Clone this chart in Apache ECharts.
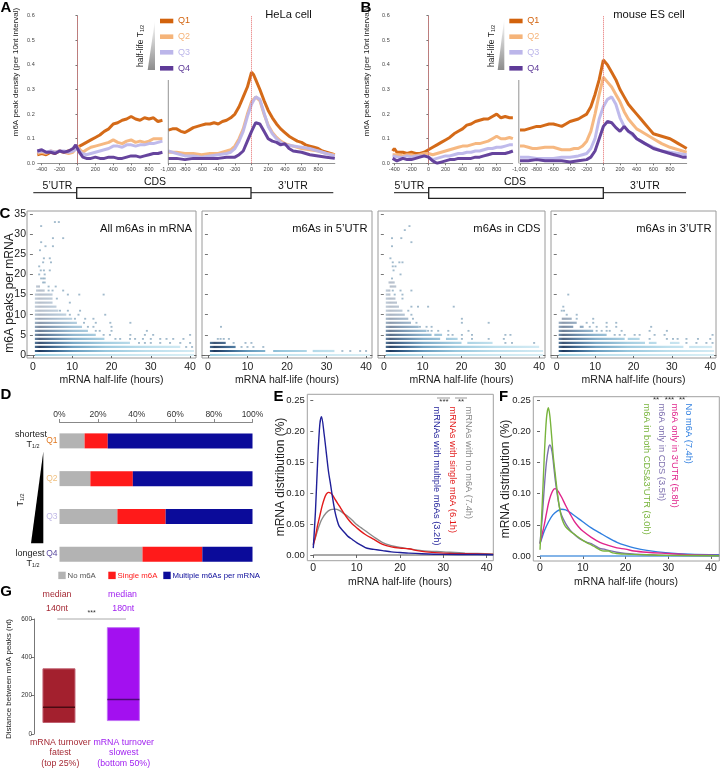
<!DOCTYPE html>
<html><head><meta charset="utf-8">
<script src="https://cdn.jsdelivr.net/npm/echarts@6/dist/echarts.min.js"></script>
<style>html,body{margin:0;padding:0;background:#fff}#c{width:722px;height:770px}</style>
</head><body><div id="c"></div>
<script>
// ---------- Panel A / B : m6A peak density profiles ----------
const helaStartQ1 = [[-450,.035],[-400,.04],[-350,.035],[-300,.045],[-250,.04],[-200,.05],[-150,.045],[-100,.05],[-50,.055],[0,.065],[50,.075],[100,.085],[150,.095],[200,.105],[250,.115],[300,.13],[350,.14],[400,.16],[450,.165],[500,.175],[550,.18],[600,.19],[650,.18],[700,.175],[750,.185],[800,.18],[850,.185],[900,.17],[950,.175]];
const helaStartQ2 = [[-450,.04],[-400,.045],[-350,.04],[-300,.05],[-250,.045],[-200,.05],[-150,.045],[-100,.04],[-50,.045],[0,.07],[30,.055],[60,.045],[100,.055],[150,.065],[200,.07],[250,.075],[300,.08],[350,.085],[400,.095],[450,.085],[500,.08],[550,.09],[600,.095],[650,.085],[700,.09],[750,.085],[800,.09],[850,.1],[900,.1],[950,.1]];
const helaStartQ3 = [[-450,.045],[-400,.05],[-350,.045],[-300,.05],[-250,.045],[-200,.05],[-150,.05],[-100,.045],[-50,.05],[0,.06],[50,.04],[100,.035],[150,.04],[200,.045],[250,.05],[300,.055],[350,.06],[400,.07],[450,.07],[500,.065],[550,.075],[600,.075],[650,.07],[700,.075],[750,.075],[800,.08],[850,.08],[900,.085],[950,.09]];
const helaStartQ4 = [[-450,.05],[-400,.055],[-350,.045],[-300,.045],[-250,.04],[-200,.05],[-150,.045],[-100,.05],[-50,.06],[-20,.075],[0,.06],[30,.04],[60,.025],[100,.02],[150,.02],[200,.025],[250,.02],[300,.02],[350,.025],[400,.025],[450,.02],[500,.02],[550,.025],[600,.03],[650,.03],[700,.025],[750,.03],[800,.035],[850,.04],[900,.04],[950,.045]];
const helaStopQ1 = [[-1000,.135],[-950,.14],[-900,.14],[-850,.13],[-800,.125],[-750,.135],[-700,.145],[-650,.15],[-600,.155],[-550,.16],[-500,.16],[-450,.165],[-400,.16],[-350,.17],[-300,.175],[-250,.185],[-200,.2],[-150,.23],[-100,.27],[-50,.31],[0,.37],[25,.36],[50,.34],[100,.3],[150,.255],[200,.215],[250,.185],[300,.16],[350,.14],[400,.125],[450,.11],[500,.1],[550,.09],[600,.085],[650,.075],[700,.07],[750,.065],[800,.06],[850,.05],[900,.045],[950,.04],[1000,.035]];
const helaStopQ2 = [[-1000,.045],[-900,.045],[-800,.04],[-700,.04],[-600,.035],[-500,.04],[-400,.04],[-300,.05],[-250,.055],[-200,.07],[-150,.1],[-100,.14],[-50,.2],[0,.25],[50,.27],[100,.255],[150,.2],[200,.155],[250,.125],[300,.105],[350,.09],[400,.08],[500,.07],[600,.06],[700,.055],[800,.05],[900,.04],[1000,.035]];
const helaStopQ3 = [[-1000,.05],[-900,.04],[-800,.03],[-700,.03],[-600,.025],[-500,.03],[-400,.035],[-300,.04],[-250,.045],[-200,.06],[-150,.09],[-100,.13],[-50,.19],[0,.24],[50,.27],[100,.26],[150,.205],[200,.15],[250,.12],[300,.1],[350,.085],[400,.075],[500,.07],[600,.065],[700,.06],[800,.05],[900,.04],[1000,.03]];
const helaStopQ4 = [[-1000,.02],[-900,.02],[-800,.015],[-700,.02],[-600,.02],[-500,.02],[-400,.02],[-300,.025],[-200,.025],[-150,.035],[-100,.05],[-50,.09],[0,.13],[50,.165],[100,.16],[150,.13],[200,.1],[250,.09],[300,.085],[350,.075],[400,.08],[450,.06],[500,.05],[600,.045],[700,.035],[800,.03],[900,.025],[1000,.02]];
const mouseStartQ1 = [[-420,.05],[-400,.06],[-370,.045],[-300,.045],[-250,.04],[-200,.045],[-150,.04],[-100,.04],[-50,.045],[0,.055],[50,.065],[100,.075],[150,.085],[200,.095],[250,.105],[300,.12],[350,.13],[400,.14],[450,.155],[500,.16],[550,.17],[600,.175],[650,.18],[700,.18],[750,.19],[800,.2],[850,.185],[900,.19],[950,.185],[990,.185]];
const mouseStartQ2 = [[-420,.035],[-350,.035],[-300,.03],[-250,.035],[-200,.035],[-150,.03],[-100,.035],[-50,.04],[0,.04],[50,.035],[100,.04],[150,.045],[200,.05],[250,.055],[300,.06],[350,.065],[400,.07],[450,.07],[500,.075],[550,.08],[600,.08],[650,.085],[700,.09],[750,.1],[800,.11],[850,.1],[900,.1],[950,.105],[990,.1]];
const mouseStartQ3 = [[-420,.03],[-350,.025],[-300,.025],[-250,.03],[-200,.025],[-150,.03],[-100,.03],[-50,.03],[0,.025],[50,.015],[100,.02],[150,.025],[200,.03],[250,.03],[300,.035],[350,.04],[400,.04],[450,.045],[500,.045],[550,.05],[600,.05],[650,.055],[700,.06],[750,.06],[800,.065],[850,.065],[900,.07],[950,.075],[990,.075]];
const mouseStartQ4 = [[-420,.02],[-400,.015],[-370,.01],[-300,.02],[-250,.015],[-200,.015],[-150,.02],[-100,.025],[-50,.03],[0,.025],[50,.01],[100,.0],[150,.005],[200,.01],[250,.015],[300,.015],[350,.02],[400,.02],[450,.02],[500,.02],[550,.025],[600,.025],[650,.03],[700,.035],[750,.04],[800,.04],[850,.04],[900,.04],[950,.045],[990,.05]];
const mouseStopQ1 = [[-1000,.135],[-950,.135],[-900,.14],[-850,.145],[-800,.15],[-750,.15],[-700,.155],[-650,.16],[-600,.16],[-550,.155],[-500,.15],[-450,.16],[-400,.17],[-350,.175],[-300,.18],[-250,.19],[-200,.2],[-150,.23],[-100,.28],[-50,.34],[0,.42],[25,.41],[50,.4],[100,.37],[150,.34],[200,.3],[250,.27],[300,.24],[350,.22],[400,.2],[450,.18],[500,.16],[550,.14],[600,.12],[650,.115],[700,.11],[750,.105],[800,.1],[850,.09],[900,.08],[950,.07],[1000,.06]];
const mouseStopQ2 = [[-1000,.07],[-950,.07],[-900,.065],[-850,.06],[-800,.06],[-700,.065],[-650,.065],[-600,.065],[-550,.06],[-500,.055],[-450,.055],[-400,.055],[-350,.06],[-300,.06],[-250,.07],[-200,.09],[-150,.13],[-100,.2],[-50,.28],[0,.35],[50,.33],[100,.31],[150,.28],[200,.25],[250,.21],[300,.18],[350,.16],[400,.14],[450,.13],[500,.12],[550,.11],[600,.1],[700,.08],[800,.065],[900,.055],[1000,.045]];
const mouseStopQ3 = [[-1000,.025],[-900,.025],[-800,.02],[-700,.02],[-600,.02],[-500,.025],[-400,.025],[-300,.03],[-250,.035],[-200,.04],[-150,.06],[-100,.1],[-50,.18],[0,.23],[50,.26],[100,.27],[150,.24],[200,.185],[250,.15],[300,.13],[350,.115],[400,.1],[500,.08],[600,.065],[700,.05],[800,.045],[900,.04],[1000,.035]];
const mouseStopQ4 = [[-1000,.01],[-900,.01],[-800,.015],[-700,.01],[-600,.01],[-500,.01],[-400,.005],[-300,.01],[-200,.015],[-150,.025],[-100,.05],[-50,.1],[0,.15],[50,.17],[100,.165],[150,.145],[200,.13],[250,.15],[300,.13],[350,.12],[400,.1],[450,.09],[500,.08],[550,.07],[600,.06],[700,.05],[800,.04],[850,.035],[900,.03],[950,.025],[1000,.025]];
const quartileNames = ['Q1','Q2','Q3','Q4'];
const startTicks = [-400,-200,0,200,400,600,800];
const stopTicks = [-1000,-800,-600,-400,-200,0,200,400,600,800];

// ---------- Panel C : m6A peaks per mRNA vs half-life ----------
// dense bands: [peaks per mRNA, half-life from, half-life to]
const allBands = [[0,0.5,41],[1,0.5,41],[2,0.5,37.5],[3,0.5,24.7],[4,0.5,18.2],[5,0.5,16],[6,0.5,14],[7,0.5,12.5],[8,0.5,11.2],[9,0.5,10],[10,0.5,8.5],[11,0.5,6.5],[12,0.5,6],[13,0.5,5],[14,0.5,5],[15,0.5,5],[16,0.8,3],[17,0.8,1.8]];
const allDots = [[5.6,33],[6.6,33],[2.1,32],[5.1,29],[7.7,29],[2.1,28],[3.2,27],[5.1,27],[1.8,26],[2.8,24],[4.3,24],[2.6,23],[4.6,23],[1.6,22],[2,21],[2.8,21],[4.3,21],[1.6,20],[3,20],[2.1,19],[2.6,19],[3,19],[2.6,18],[3,18],[4,17],[5.8,17],[4,16],[5,16],[7.7,16],[8.9,15],[11.8,15],[18,15],[6.1,14],[9.4,13],[6.9,11],[8.9,11],[12,11],[9.4,10],[11.6,10],[18.4,10],[10.7,9],[13.3,9],[15.4,9],[13,8],[16,8],[19.7,8],[24.8,8],[14,7],[15.4,7],[20,7],[16,6],[17,6],[20,6],[29,6],[18,5],[19.6,5],[24.8,5],[28.5,5],[30.6,5],[40,5],[21,4],[22.2,4],[24.7,4],[26,4],[28,4],[30,4],[32.4,4],[34,4],[35.7,4],[38.3,4],[27,3],[28.5,3],[30,3],[32.4,3],[34.9,3],[37.5,3],[40,3],[39,2],[40.5,2]];
const utr5Bands = [[0,0.5,41],[1,0.5,14.5],[1,16.5,25],[1,26.5,32],[2,0.5,7],[3,0.5,4.5]];
const utr5Dots = [[3.3,7],[2.5,4],[3.2,4],[4,4],[5.3,4],[6.5,3],[9.5,3],[11,3],[8.5,2],[10,2],[11.5,2],[14,2],[34,1],[36,1],[38.5,1],[40,1]];
const cdsBands = [[0,0.5,41],[1,0.5,41],[2,0.5,40],[3,0.5,20],[3,21.5,28],[4,0.5,14.5],[4,16,19],[5,0.5,12.3],[5,13,15],[6,0.5,11],[7,0.5,9],[8,0.5,7],[9,0.5,6.3],[10,0.5,5.4],[11,0.5,4.8],[12,0.5,3.9],[13,0.5,3.4],[14,0.5,3],[15,0.5,1.7],[16,0.5,1.7],[17,1.5,3.2],[18,1.2,2.8]];
const cdsDots = [[6.6,32],[5.4,31],[2.1,29],[4.5,29],[7.1,28],[2.1,27],[1.7,24],[2.3,23],[4,23],[4.8,23],[2.3,22],[3,22],[2.5,21],[4.3,20],[2.1,19],[2.3,16],[4.3,16],[7.1,16],[2.8,15],[4.8,15],[4.8,14],[7.1,12],[8.8,12],[11.4,12],[18,12],[6.3,11],[7.1,10],[7.5,9],[20.1,9],[8.4,8],[20.1,8],[27,8],[9.3,7],[11,7],[12.3,7],[11.4,6],[12.3,6],[14,6],[16.6,6],[21.8,6],[16.6,5],[17.7,5],[20.1,5],[22.7,5],[31.3,5],[32.6,5],[20.1,4],[22.7,4],[27,4],[30.9,4],[31.3,3],[33,3],[38.7,3]];
const utr3Bands = [[0,0.5,41],[1,0.5,41],[2,0.5,33],[2,34.5,40.5],[3,0.5,23],[3,24,26],[3,29.5,32],[4,0.5,17.7],[4,18.5,21.6],[5,0.5,13],[6,0.5,9.5],[7,0.5,4.3],[7,6,7],[8,0.5,5.2],[9,1.3,3.9]];
const utr3Dots = [[3,15],[1.7,12],[1.3,11],[1.9,11],[2.6,10],[5.2,10],[5.2,9],[9.5,9],[7.8,8],[9.5,8],[13,8],[15.5,8],[8.6,7],[10.4,7],[13,7],[15.5,7],[24.6,7],[10.4,6],[11.7,6],[13,6],[13.8,6],[16.9,6],[24.2,6],[28.7,6],[15.1,5],[16.4,5],[17.7,5],[20.3,5],[21.6,5],[25.5,5],[28.1,5],[40.6,5],[24.2,4],[28.7,4],[30.3,4],[31.5,4],[33.8,4],[36.8,4],[40,4],[33.8,3],[36.4,3],[39,3],[40.6,3]];
const cTitles = ['All m6As in mRNA','m6As in 5\u2019UTR','m6As in CDS','m6As in 3\u2019UTR'];
const cYTicks = [0,5,10,15,20,25,30,35];
const halfLifeTicks = [0,10,20,30,40];

// ---------- Panel D ----------
const dCategories = ['Q1','Q2','Q3','Q4'];
const dNoM6A = [13,16,30,43];
const dSingleM6A = [12,22,25,31];
const dMultiM6A = [75,62,45,26];

// ---------- Panel E ----------
const eMulti = [[0,0.011],[0.5,0.07],[1,0.15],[1.5,0.21],[1.9,0.223],[2.5,0.195],[3,0.165],[3.5,0.135],[4,0.113],[4.5,0.09],[5,0.07],[5.5,0.056],[6,0.046],[7,0.038],[8,0.03],[9,0.025],[10,0.02],[11,0.016],[12,0.012],[13,0.01],[14,0.009],[16,0.007],[18,0.005],[20,0.004],[22,0.003],[25,0.002],[30,0.001],[35,0.0008],[41.5,0.0005]];
const eSingle = [[0,0.016],[0.5,0.03],[1,0.048],[1.5,0.063],[2,0.078],[2.5,0.09],[3,0.098],[3.5,0.101],[4,0.1],[4.5,0.096],[5,0.09],[6,0.079],[7,0.068],[8,0.058],[9,0.05],[10,0.044],[11,0.038],[12,0.033],[14,0.025],[16,0.017],[18,0.013],[20,0.011],[22,0.01],[24,0.007],[26,0.005],[30,0.003],[35,0.002],[41.5,0.001]];
const eNone = [[0,0.018],[0.5,0.028],[1,0.04],[1.5,0.05],[2,0.058],[3,0.068],[4,0.073],[5,0.074],[6,0.072],[7,0.067],[8,0.062],[9,0.056],[10,0.049],[11,0.044],[12,0.039],[14,0.029],[16,0.02],[18,0.015],[20,0.012],[22,0.01],[25,0.007],[30,0.005],[35,0.003],[41.5,0.0015]];
const eBaseline = [[0,0],[41.5,0]];
const eLabels = ['mRNAs with no m6A (7.4h)','mRNAs with single m6A (6.1h)','mRNAs with multiple m6As (3.2h)'];

// ---------- Panel F ----------
const fBoth = [[0,0.01],[0.5,0.08],[1,0.16],[1.5,0.22],[1.95,0.238],[2.3,0.225],[2.7,0.194],[3.1,0.16],[3.5,0.135],[4,0.105],[4.5,0.08],[5,0.063],[5.5,0.053],[6,0.047],[7,0.04],[8,0.035],[9,0.03],[10,0.025],[11,0.021],[12,0.018],[13,0.014],[14,0.01],[15,0.008],[16,0.008],[17,0.005],[18,0.004],[20,0.003],[25,0.002],[30,0.001],[41.9,0.0005]];
const fCds = [[0,0.02],[0.5,0.06],[1,0.11],[1.5,0.15],[2,0.173],[2.3,0.178],[2.8,0.168],[3.2,0.145],[3.6,0.12],[4,0.1],[4.5,0.08],[5,0.066],[6,0.052],[7,0.042],[8,0.035],[9,0.029],[10,0.025],[11,0.022],[12,0.02],[13,0.016],[14,0.012],[15,0.011],[16,0.009],[18,0.006],[20,0.004],[25,0.002],[30,0.001],[41.9,0.0005]];
const fUtr3 = [[0,0.02],[0.5,0.035],[1,0.05],[1.5,0.068],[2,0.085],[2.5,0.097],[3,0.105],[3.5,0.108],[4,0.106],[4.5,0.101],[5,0.095],[6,0.081],[7,0.068],[8,0.056],[9,0.047],[10,0.04],[12,0.03],[14,0.022],[16,0.017],[18,0.013],[20,0.011],[22,0.008],[25,0.006],[30,0.004],[35,0.002],[41.9,0.001]];
const fNone = [[0,0.02],[0.5,0.03],[1,0.04],[2,0.055],[3,0.066],[4,0.072],[5,0.075],[6,0.074],[7,0.07],[8,0.065],[9,0.06],[10,0.055],[12,0.045],[14,0.037],[16,0.029],[18,0.022],[20,0.017],[22,0.013],[25,0.009],[30,0.005],[35,0.003],[41.9,0.002]];
const fBaseline = [[0,0],[41.9,0]];
const fLabels = ['No m6A (7.4h)','m6A only in 3\u2019UTR (5.8h)','m6A only in CDS (3.5h)','m6A in both CDS&3\u2019UTR (3.0h)'];
const distTicks = [0,0.05,0.10,0.15,0.20,0.25];

// ---------- Panel G ----------
const gGroups = [1,2];
const gQ1 = [60,70];
const gMedian = [140,180];
const gQ3 = [340,555];

// ================= styles / layout =================
const FF = '"Liberation Sans", Arial, Helvetica, sans-serif';
const qColors = ['#d2620c','#f5b47a','#bcb6ea','#5e3a98'];
const qLabelColors = ['#e07820','#f0c080','#c0b8e6','#5b4aa0'];

const chart = echarts.init(document.getElementById('c'), null, {renderer:'canvas'});

const grids = [
  {left:37.7, top:15.7, width:122.3, height:147.6},   // A start
  {left:168.3, top:15.7, width:166.5, height:147.6},  // A stop
  {left:392.7, top:15.7, width:120, height:147.6},    // B start
  {left:520, top:15.7, width:166.7, height:147.6},    // B stop
  {left:27, top:211, width:169, height:147, show:true, borderColor:'#9a9a9a', borderWidth:1},
  {left:202, top:211, width:170, height:147, show:true, borderColor:'#9a9a9a', borderWidth:1},
  {left:378, top:211, width:167, height:147, show:true, borderColor:'#9a9a9a', borderWidth:1},
  {left:551, top:211, width:165, height:147, show:true, borderColor:'#9a9a9a', borderWidth:1},
  {left:59.5, top:422, width:193, height:151},        // D
  {left:307.3, top:394.3, width:186, height:166.4, show:true, borderColor:'#a0a0a0', borderWidth:1}, // E
  {left:533.3, top:396.7, width:186, height:164.3, show:true, borderColor:'#a0a0a0', borderWidth:1}, // F
  {left:34, top:619, width:128, height:115}           // G
];

const tinyAxisX = (gi, min, max, ticks) => ({gridIndex:gi, type:'value', min, max,
  axisLine:{lineStyle:{color:'#777', width:0.8}},
  axisTick:{customValues:ticks, length:2, lineStyle:{color:'#777'}},
  axisLabel:{customValues:ticks, fontSize:5.5, margin:3, color:'#444', fontFamily:FF},
  splitLine:{show:false}});
const tinyAxisY = (gi) => ({gridIndex:gi, type:'value', min:0, max:0.6, interval:0.1,
  axisLine:{show:true, lineStyle:{color:'#777', width:0.8}},
  axisTick:{show:true, length:2, lineStyle:{color:'#777'}},
  axisLabel:{fontSize:5.5, margin:3, color:'#444', fontFamily:FF, formatter:v=>v.toFixed(1)},
  splitLine:{show:false}});
const cAxisX = (gi) => ({gridIndex:gi, type:'value', min:-1.5, max:41.5, offset:3,
  axisLine:{show:true, lineStyle:{color:'#666'}},
  axisTick:{customValues:halfLifeTicks, length:3, lineStyle:{color:'#666'}},
  axisLabel:{customValues:halfLifeTicks, fontSize:10.5, margin:1, color:'#222', fontFamily:FF},
  splitLine:{show:false}});
const cAxisY = (gi, labels) => ({gridIndex:gi, type:'value', min:-0.74, max:35.74,
  axisLine:{show:false},
  axisTick:{show:true, customValues:cYTicks, length:3, lineStyle:{color:'#777'}},
  axisLabel:{show:labels, customValues:cYTicks, fontSize:10.5, margin:1, color:'#222', fontFamily:FF},
  splitLine:{show:false}});
const distAxisX = (gi, min, max) => ({gridIndex:gi, type:'value', min, max, offset:1,
  axisLine:{show:false},
  axisTick:{show:true, customValues:halfLifeTicks, length:3, lineStyle:{color:'#666'}},
  axisLabel:{customValues:halfLifeTicks, fontSize:10.5, margin:1, color:'#222', fontFamily:FF},
  splitLine:{show:false}});
const distAxisY = (gi, min, max) => ({gridIndex:gi, type:'value', min, max, offset:1,
  axisLine:{show:false},
  axisTick:{show:true, customValues:distTicks, length:3, lineStyle:{color:'#666'}},
  axisLabel:{customValues:distTicks, fontSize:9.5, margin:1.5, color:'#222', fontFamily:FF, formatter:v=>v.toFixed(2)},
  splitLine:{show:false}});

const xAxes = [
  tinyAxisX(0,-445,923,startTicks),
  tinyAxisX(1,-1000,1000,stopTicks),
  tinyAxisX(2,-419,988,startTicks),
  tinyAxisX(3,-1000,1000,stopTicks),
  cAxisX(4), cAxisX(5), cAxisX(6), cAxisX(7),
  {gridIndex:8, type:'value', min:0, max:100, interval:20, position:'top',
    axisLine:{show:true, lineStyle:{color:'#888'}}, axisTick:{show:true, length:3, lineStyle:{color:'#888'}},
    axisLabel:{formatter:'{value}%', fontSize:8.5, margin:3, color:'#333', fontFamily:FF}, splitLine:{show:false}},
  distAxisX(9,-1.38,41.52),
  distAxisX(10,-1.57,41.94),
  {gridIndex:11, type:'value', min:0.6124, max:2.6, show:false}
];
const yAxes = [
  tinyAxisY(0),
  {gridIndex:1, type:'value', min:0, max:0.6, show:false},
  tinyAxisY(2),
  {gridIndex:3, type:'value', min:0, max:0.6, show:false},
  cAxisY(4,true), cAxisY(5,false), cAxisY(6,false), cAxisY(7,false),
  {gridIndex:8, type:'category', data:dCategories, inverse:true,
    axisLine:{show:false}, axisTick:{show:false},
    axisLabel:{fontSize:8.5, margin:2, fontFamily:FF, formatter:v=>'{'+v+'|'+v+'}',
      rich:{Q1:{color:qLabelColors[0],fontSize:8.5},Q2:{color:qLabelColors[1],fontSize:8.5},Q3:{color:qLabelColors[2],fontSize:8.5},Q4:{color:qLabelColors[3],fontSize:8.5}}}},
  distAxisY(9,-0.0092,0.259),
  distAxisY(10,-0.008,0.2555),
  {gridIndex:11, type:'value', min:0, max:600, interval:200,
    axisLine:{show:true, lineStyle:{color:'#777'}}, axisTick:{show:true, length:3, lineStyle:{color:'#777'}},
    axisLabel:{fontSize:6.5, margin:2, color:'#333', fontFamily:FF}, splitLine:{show:false}}
];

const series = [];
// A/B profiles
[[0,[helaStartQ1,helaStartQ2,helaStartQ3,helaStartQ4]],
 [1,[helaStopQ1,helaStopQ2,helaStopQ3,helaStopQ4]],
 [2,[mouseStartQ1,mouseStartQ2,mouseStartQ3,mouseStartQ4]],
 [3,[mouseStopQ1,mouseStopQ2,mouseStopQ3,mouseStopQ4]]].forEach(([gi, sets]) => {
  sets.forEach((d, qi) => {
    const s = {type:'line', name:quartileNames[qi], xAxisIndex:gi, yAxisIndex:gi, data:d, symbol:'none', showSymbol:false,
      lineStyle:{color:qColors[qi], width:3, opacity:0.95}, z:2+qi, silent:true};
    if (qi === 0) s.markLine = {silent:true, symbol:'none', label:{show:false},
      lineStyle:{color:'#e46a6a', type:'dotted', width:1}, data:[{xAxis:0}]};
    series.push(s);
  });
});

// C scatter
const denseStops = [{offset:0,color:'#3a6d98'},{offset:0.04,color:'#0e2a52'},{offset:0.12,color:'#24527f'},{offset:0.25,color:'#5a93b8'},{offset:0.45,color:'#8fc2da'},{offset:0.7,color:'#b5dbea'},{offset:1,color:'#cfe9f3'}];
const zeroStops = [{offset:0,color:'#9ccde0'},{offset:0.3,color:'#bfe1ed'},{offset:1,color:'#d8eef5'}];
function bandRender(params, api) {
  const row = api.value(0), a = api.value(1), b = api.value(2);
  const p0 = api.coord([a, row]), p1 = api.coord([b, row]);
  const g0 = api.coord([0, row])[0], g1 = api.coord([41, row])[0];
  const op = row === 0 ? 1 : Math.max(0.3, 1.0 - row * 0.065);
  return {type:'rect', shape:{x:p0[0], y:p0[1]-1.1, width:Math.max(1.5, p1[0]-p0[0]), height:2.2},
    style:{fill:new echarts.graphic.LinearGradient(g0,0,g1,0, row===0?zeroStops:denseStops, true), opacity:op}};
}
[allBands, utr5Bands, cdsBands, utr3Bands].forEach((bands, i) => {
  series.push({type:'custom', xAxisIndex:4+i, yAxisIndex:4+i, data:bands, encode:{x:[1,2], y:0}, renderItem:bandRender, silent:true});
});
[allDots, utr5Dots, cdsDots, utr3Dots].forEach((dots, i) => {
  series.push({type:'scatter', xAxisIndex:4+i, yAxisIndex:4+i, data:dots, symbol:'rect', symbolSize:[2,1.8],
    itemStyle:{color:'#8aa9bf', opacity:0.8}, silent:true});
});

// D bars
[[dNoM6A,'#b3b3b3','No m6A'],[dSingleM6A,'#ff1a1a','Single m6A'],[dMultiM6A,'#0b0b9a','Multiple m6As per mRNA']].forEach(([d,c,n]) => {
  series.push({type:'bar', name:n, stack:'d', xAxisIndex:8, yAxisIndex:8, data:d, barWidth:15, itemStyle:{color:c}, silent:true});
});

// E curves
[[eBaseline,'#555555',1.2],[eNone,'#8a8a8a',1.4],[eSingle,'#e21a1a',1.4],[eMulti,'#1f1f99',1.4]].forEach(([d,c,w]) => {
  series.push({type:'line', xAxisIndex:9, yAxisIndex:9, data:d, symbol:'none', smooth:0.3, lineStyle:{color:c, width:w}, silent:true});
});
// F curves
[[fBaseline,'#5a9be0',1.5],[fNone,'#2f7fe0',1.4],[fUtr3,'#e0258c',1.4],[fCds,'#7d6fae',1.4],[fBoth,'#78b43c',1.4]].forEach(([d,c,w]) => {
  series.push({type:'line', xAxisIndex:10, yAxisIndex:10, data:d, symbol:'none', smooth:0.3, lineStyle:{color:c, width:w}, silent:true});
});

// G boxes
const gFill = ['#a3202e','#a310f0'], gEdge = ['#c06070','#c070f5'], gMed = ['#4a0a12','#4f087a'];
function boxRender(params, api) {
  const x = api.value(0), lo = api.value(1), med = api.value(2), hi = api.value(3);
  const pLo = api.coord([x, lo]), pHi = api.coord([x, hi]), pMed = api.coord([x, med]);
  const w = 32, i = params.dataIndex;
  return {type:'group', children:[
    {type:'rect', shape:{x:pLo[0]-w/2, y:pHi[1], width:w, height:pLo[1]-pHi[1]}, style:{fill:gFill[i], stroke:gEdge[i], lineWidth:1}},
    {type:'line', shape:{x1:pMed[0]-w/2, y1:pMed[1], x2:pMed[0]+w/2, y2:pMed[1]}, style:{stroke:gMed[i], lineWidth:1.5}}
  ]};
}
series.push({type:'custom', xAxisIndex:11, yAxisIndex:11, renderItem:boxRender, encode:{x:0, y:[1,2,3]},
  data:gGroups.map((g,i)=>[g, gQ1[i], gMedian[i], gQ3[i]]), silent:true});

// ================= graphic annotations =================
function txt(text, x, y, size, color, o) {
  o = o || {};
  const st = {text:text, fill:color||'#222', fontSize:size, fontFamily:FF, fontWeight:o.bold?'bold':'normal',
    align:o.align||'center', verticalAlign:o.va||'middle', textAlign:o.align||'center', textVerticalAlign:o.va||'middle'};
  if (o.rich) st.rich = o.rich;
  return {type:'text', x:x, y:y, rotation:o.rot||0, z:100, silent:true, style:st};
}
const subRich = (s) => ({t:{fontSize:s, fill:'#222', fontFamily:FF}, s:{fontSize:s*0.6, fill:'#222', fontFamily:FF, verticalAlign:'bottom'}});
const G = [];
// panel letters
[['A',6,8],['B',366,8],['C',5,214],['D',6,395],['E',278.5,397],['F',503.5,397],['G',6,592]].forEach(([l,x,y]) => G.push(txt(l,x,y,15,'#000',{bold:true})));

// A / B decorations
function profileDecor(o) {
  G.push(txt('m6A peak density (per 10nt interval)', o.yTitleX, 72, 8, '#222', {rot:Math.PI/2}));
  G.push({type:'line', z:50, silent:true, shape:{x1:o.axisX, y1:80, x2:o.axisX, y2:163.3}, style:{stroke:'#777', lineWidth:0.8}});
  G.push(txt(o.title, o.titleX, 15, 11.2, '#111'));
  [21,36.7,52.3,68.3].forEach((yy,qi) => {
    G.push({type:'rect', z:50, silent:true, shape:{x:o.legX, y:yy-2.3, width:13.3, height:4.6}, style:{fill:qColors[qi]}});
    G.push(txt(quartileNames[qi], o.legX+18, yy, 9, qColors[qi], {align:'left'}));
  });
  G.push({type:'polygon', z:50, silent:true, shape:{points:o.tri},
    style:{fill:{type:'linear', x:0, y:0, x2:0, y2:1, colorStops:[{offset:0,color:'#ffffff'},{offset:1,color:'#8c8c8c'}]}}});
  G.push(txt('{t|half-life T}{s|1/2}', o.hlX, 46, 8.5, '#222', {rot:Math.PI/2, rich:subRich(8.5)}));
  G.push({type:'line', z:40, silent:true, shape:{x1:o.gene[0], y1:192.7, x2:o.gene[1], y2:192.7}, style:{stroke:'#444', lineWidth:1.3}});
  G.push({type:'rect', z:41, silent:true, shape:{x:o.box[0], y:187.7, width:o.box[1]-o.box[0], height:10.6}, style:{fill:'#fff', stroke:'#222', lineWidth:1.3}});
  G.push(txt('5\u2019UTR', o.utr5X, 186.5, 10.5, '#111'));
  G.push(txt('CDS', o.cdsX, 182.5, 10.5, '#111'));
  G.push(txt('3\u2019UTR', o.utr3X, 186.5, 10.5, '#111'));
}
profileDecor({yTitleX:15.5, axisX:168.3, title:'HeLa cell', titleX:288.5, legX:160, tri:[[155,20],[155,70],[147.7,70]], hlX:141,
  gene:[33.3,333.3], box:[76.7,251], utr5X:57.5, cdsX:155, utr3X:293});
profileDecor({yTitleX:366.5, axisX:518.8, title:'mouse ES cell', titleX:649, legX:509.3, tri:[[504.3,18.3],[504.3,70],[497.7,70]], hlX:491.7,
  gene:[394,686], box:[428.7,603.3], utr5X:409.5, cdsX:515, utr3X:645});

// C decorations
G.push(txt('m6A peaks per mRNA', 9.5, 293, 12, '#222', {rot:Math.PI/2}));
const cRight = [192, 367.5, 540.5, 711.5], cCenter = [111.5, 287, 461.5, 633.5];
cTitles.forEach((t,i) => {
  G.push(txt(t, cRight[i], 228.5, 11.2, '#111', {align:'right'}));
  G.push(txt('mRNA half-life (hours)', cCenter[i], 380.5, 10.5, '#222'));
});

// D decorations
G.push(txt('shortest', 31, 434.3, 9, '#222'));
G.push(txt('{t|T}{s|1/2}', 33, 444.5, 9, '#222', {rich:subRich(9)}));
G.push(txt('longest', 30, 553.3, 9, '#222'));
G.push(txt('{t|T}{s|1/2}', 33, 563.5, 9, '#222', {rich:subRich(9)}));
G.push(txt('{t|T}{s|1/2}', 20.5, 500, 9, '#222', {rot:Math.PI/2, rich:subRich(9)}));
G.push({type:'polygon', z:50, silent:true, shape:{points:[[43.3,451.7],[43.3,543.3],[31,543.3]]}, style:{fill:'#000'}});
[['No m6A','#b3b3b3','#555',58.3],['Single m6A','#ff1a1a','#ff1a1a',108.3],['Multiple m6As per mRNA','#0b0b9a','#0b0b9a',163.3]].forEach(([t,c,tc,x]) => {
  G.push({type:'rect', z:50, silent:true, shape:{x:x, y:571.7, width:7.4, height:7.4}, style:{fill:c}});
  G.push(txt(t, x+9.2, 575.6, 7.8, tc, {align:'left'}));
});

// E decorations
G.push(txt('mRNA distribution (%)', 280.5, 477, 12, '#222', {rot:Math.PI/2}));
G.push(txt('mRNA half-life (hours)', 400, 582, 10.5, '#222'));
[[468.3,'#8a8a8a'],[452.7,'#e21a1a'],[436.7,'#1f1f99']].forEach(([x,c],i) => G.push(txt(eLabels[i], x, 406.5, 9.3, c, {align:'left', rot:-Math.PI/2})));
G.push({type:'line', z:50, silent:true, shape:{x1:437, y1:398, x2:450, y2:398}, style:{stroke:'#999', lineWidth:1}});
G.push({type:'line', z:50, silent:true, shape:{x1:455, y1:398, x2:467, y2:398}, style:{stroke:'#999', lineWidth:1}});
G.push(txt('***', 444, 401.5, 8, '#333'));
G.push(txt('**', 461, 401.5, 8, '#333'));

// F decorations
G.push(txt('mRNA distribution (%)', 505.5, 479, 12, '#222', {rot:Math.PI/2}));
G.push(txt('mRNA half-life (hours)', 626, 582, 10.5, '#222'));
[[688.3,'#2f7fe0'],[675,'#e0258c'],[661.7,'#7d6fae'],[646.7,'#78b43c']].forEach(([x,c],i) => G.push(txt(fLabels[i], x, 403.5, 9.3, c, {align:'left', rot:-Math.PI/2})));
[[650,662],[664,675],[677,687]].forEach(([a,b]) => G.push({type:'line', z:50, silent:true, shape:{x1:a, y1:396.5, x2:b, y2:396.5}, style:{stroke:'#999', lineWidth:1}}));
G.push(txt('**', 656, 400, 8, '#333'));
G.push(txt('***', 669.5, 400, 8, '#333'));
G.push(txt('**', 682, 400, 8, '#333'));

// G decorations
G.push(txt('Distance between m6A peaks (nt)', 9, 679, 8, '#222', {rot:Math.PI/2}));
G.push(txt('median', 57, 594.3, 8.8, '#a52a35'));
G.push(txt('140nt', 57, 608.5, 8.8, '#a52a35'));
G.push(txt('median', 122.5, 594.3, 8.8, '#a020f0'));
G.push(txt('180nt', 123.3, 608.5, 8.8, '#a020f0'));
G.push({type:'line', z:50, silent:true, shape:{x1:57.3, y1:619, x2:126, y2:619}, style:{stroke:'#aaa', lineWidth:1}});
G.push(txt('***', 91.7, 613, 7, '#333'));
[['mRNA turnover',742.3],['fatest',752.7],['(top 25%)',763.3]].forEach(([t,y]) => G.push(txt(t, 60.3, y, 8.8, '#a52a35')));
[['mRNA turnover',742.3],['slowest',752.7],['(bottom 50%)',763.3]].forEach(([t,y]) => G.push(txt(t, 123.7, y, 8.8, '#a020f0')));

chart.setOption({
  animation:false,
  backgroundColor:'#ffffff',
  textStyle:{fontFamily:FF},
  grid:grids,
  xAxis:xAxes,
  yAxis:yAxes,
  series:series,
  graphic:{elements:G}
});
</script></body></html>
